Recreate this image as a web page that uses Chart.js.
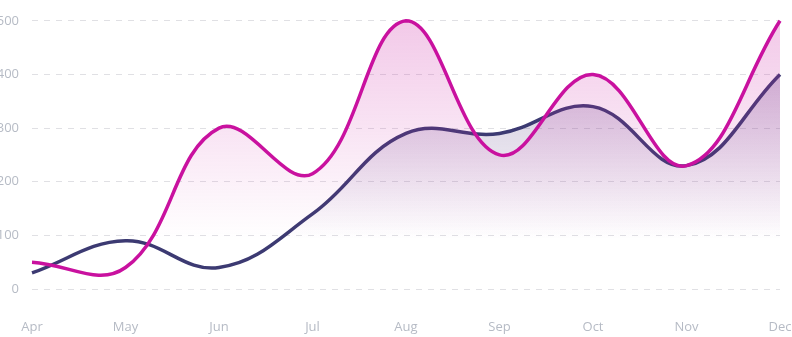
<!DOCTYPE html>
<html>
<head>
<meta charset="utf-8">
<script src="https://cdn.jsdelivr.net/npm/chart.js@4.4.0/dist/chart.umd.min.js"></script>
<style>
    html, body { margin: 0; padding: 0; background: #ffffff; }
    .frame { position: relative; width: 792px; height: 337px; overflow: hidden; }
    .chart-box { position: absolute; left: -30px; top: 0; width: 850px; height: 337px; }
</style>
</head>
<body>
<div class="frame">
    <div class="chart-box"><canvas id="trendChart"></canvas></div>
</div>
<script>
const months = ['Apr', 'May', 'Jun', 'Jul', 'Aug', 'Sep', 'Oct', 'Nov', 'Dec'];
const seriesA = [50, 40, 300, 215, 500, 250, 400, 230, 500];
const seriesB = [30, 90, 40, 140, 290, 290, 340, 230, 400];
const yTicks = [0, 100, 200, 300, 400, 500];

document.addEventListener('DOMContentLoaded', function () {
    initTrendChart();
});

function fadeFill(rgb, alphaTop) {
    return function (context) {
        const area = context.chart.chartArea;
        if (!area) return 'rgba(' + rgb + ',0)';
        const g = context.chart.ctx.createLinearGradient(0, area.top, 0, area.bottom - 50);
        g.addColorStop(0, 'rgba(' + rgb + ',' + alphaTop + ')');
        g.addColorStop(1, 'rgba(' + rgb + ',0)');
        return g;
    };
}

function initTrendChart() {
    const ctx = document.getElementById('trendChart').getContext('2d');
    const fontFamily = '"Open Sans", sans-serif';
    const tickColor = '#b6bbc5';

    const data = {
        labels: months,
        datasets: [{
            label: 'Series A',
            data: seriesA,
            borderColor: '#c9119f',
            backgroundColor: fadeFill('205,40,165', 0.25),
            borderWidth: 3.5,
            fill: 'origin',
            tension: 0.4,
            pointRadius: 0,
            clip: false
        }, {
            label: 'Series B',
            data: seriesB,
            borderColor: '#3c3a72',
            backgroundColor: fadeFill('80,50,125', 0.35),
            borderWidth: 3.5,
            fill: 'origin',
            tension: 0.4,
            pointRadius: 0,
            clip: false
        }]
    };

    const options = {
        responsive: true,
        maintainAspectRatio: false,
        animation: false,
        layout: { padding: { top: 16, right: 40, bottom: 0, left: 0 } },
        plugins: {
            legend: { display: false },
            tooltip: { enabled: false }
        },
        scales: {
            x: {
                grid: { display: false },
                border: { display: false },
                ticks: {
                    color: tickColor,
                    padding: 22,
                    maxRotation: 0,
                    font: { family: fontFamily, size: 13 }
                },
                afterFit: function (scale) { scale.height = 48; }
            },
            y: {
                min: 0,
                max: 500,
                afterBuildTicks: function (scale) {
                    scale.ticks = yTicks.map(v => ({ value: v }));
                },
                grid: {
                    color: '#e0e0e4',
                    drawTicks: false,
                    lineWidth: 1
                },
                border: { display: false, dash: [6, 6] },
                ticks: {
                    color: tickColor,
                    padding: 13,
                    font: { family: fontFamily, size: 13 }
                },
                afterFit: function (scale) { scale.width = 62; }
            }
        }
    };

    window.trendChart = new Chart(ctx, { type: 'line', data, options });
}
</script>
</body>
</html>
